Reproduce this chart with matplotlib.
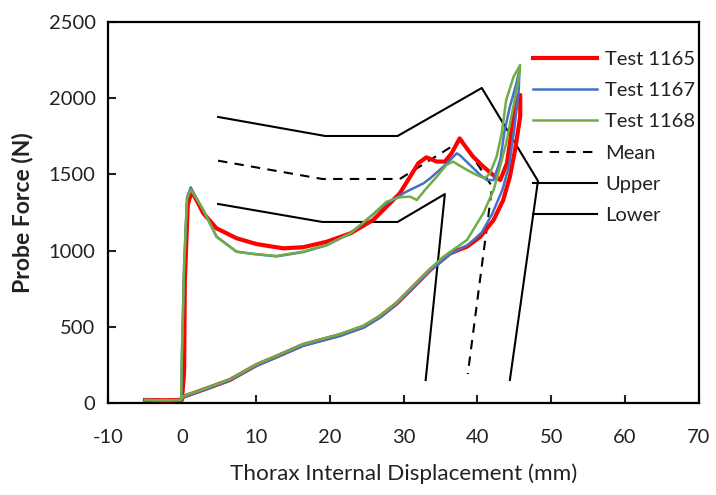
import matplotlib
matplotlib.use("Agg")
import matplotlib.pyplot as plt

plt.rcParams['font.family'] = ['Lato', 'DejaVu Sans']
plt.rcParams['axes.unicode_minus'] = False

# Test 1165 (red): loading then unloading
t1165_x = [-5.0, -2.0, 0.0, 0.3, 0.4, 0.8, 1.3, 2.0, 2.9, 4.7, 7.4, 10.1, 13.7, 16.4, 19.6, 22.8,
           25.9, 27.7, 29.5, 30.9, 32.0, 33.1, 34.5, 35.6, 36.5, 37.6, 37.9, 39.4, 40.8, 42.4,
           43.1, 44.0, 44.6, 45.1, 45.3, 45.8, 45.8, 45.1, 44.4, 43.5, 42.2, 40.4, 38.6, 36.3,
           33.6, 30.9, 29.1, 26.8, 24.6, 21.4, 16.4, 13.3, 10.1, 6.5, 3.4, 0.2, 0.0]
t1165_y = [20, 18, 20, 200, 800, 1300, 1387, 1330, 1245, 1146, 1081, 1043, 1015, 1022, 1058, 1113,
           1201, 1288, 1376, 1485, 1573, 1612, 1584, 1584, 1638, 1736, 1715, 1617, 1551, 1485,
           1463, 1573, 1770, 1923, 2010, 2021, 1879, 1660, 1485, 1332, 1201, 1091, 1026, 982,
           873, 741, 654, 566, 501, 446, 381, 315, 249, 151, 96, 41, 30]

# Test 1167 (blue)
t1167_x = [-5.0, -2.0, -0.1, 0.0, 0.3, 0.7, 1.2, 2.0, 2.9, 4.7, 7.4, 9.7, 12.8, 16.4, 19.6, 22.8,
           25.5, 27.7, 30.4, 32.7, 33.6, 35.4, 37.2, 37.6, 39.0, 40.4, 41.3, 42.2, 43.1, 43.7,
           44.4, 45.3, 45.7, 45.6, 45.0, 44.3, 43.4, 42.0, 40.6, 38.8, 36.3, 33.6, 30.9, 29.1,
           26.8, 24.6, 21.4, 16.4, 13.3, 10.1, 6.5, 3.4, 0.2, 0.0]
t1167_y = [20, 18, 20, 300, 900, 1350, 1415, 1340, 1266, 1091, 993, 978, 962, 990, 1035, 1113,
           1222, 1310, 1387, 1441, 1474, 1551, 1638, 1627, 1562, 1496, 1463, 1463, 1594, 1791,
           1944, 2100, 2190, 2050, 1800, 1560, 1400, 1240, 1120, 1040, 975, 868, 735, 650,
           560, 495, 440, 375, 310, 245, 148, 93, 38, 28]

# Test 1168 (green)
t1168_x = [-5.0, -2.0, -0.1, 0.0, 0.3, 0.7, 1.2, 2.0, 2.9, 4.7, 7.4, 9.7, 12.8, 16.4, 19.6, 22.8,
           25.5, 27.7, 29.5, 30.9, 31.8, 33.1, 34.5, 35.8, 36.7, 38.6, 39.9, 41.0, 41.7, 42.6,
           43.3, 43.9, 44.9, 45.8, 45.5, 44.6, 43.9, 42.9, 42.2, 40.8, 38.6, 35.4, 33.6, 30.9,
           29.1, 26.8, 24.6, 21.4, 16.4, 13.3, 10.1, 6.5, 3.4, 0.2, 0.0]
t1168_y = [20, 18, 20, 300, 900, 1340, 1400, 1340, 1266, 1091, 993, 978, 965, 993, 1037, 1113,
           1222, 1321, 1350, 1354, 1332, 1409, 1485, 1562, 1584, 1529, 1496, 1474, 1507, 1616,
           1770, 1988, 2141, 2218, 2098, 1879, 1704, 1520, 1398, 1245, 1070, 960, 880, 750,
           660, 572, 507, 452, 386, 320, 254, 155, 100, 45, 32]

# Corridors
mean_x = [4.9, 19.0, 29.5, 37.9, 42.0, 38.7]
mean_y = [1590, 1470, 1470, 1725, 1420, 190]
upper_x = [4.9, 19.4, 29.2, 40.6, 48.2, 44.4]
upper_y = [1877, 1752, 1752, 2067, 1457, 151]
lower_x = [4.9, 19.0, 29.2, 35.6, 33.0]
lower_y = [1306, 1188, 1188, 1371, 151]

x_ticks = [-10, 0, 10, 20, 30, 40, 50, 60, 70]
y_ticks = [0, 500, 1000, 1500, 2000, 2500]

fig = plt.figure(figsize=(7.16, 4.95), dpi=100)
ax = fig.add_axes([108/716, 92/495, 591/716, 381/495])

ax.plot(t1165_x, t1165_y, color='#FF0000', lw=3.0, label='Test 1165', zorder=3)
ax.plot(t1167_x, t1167_y, color='#4472C4', lw=1.8, label='Test 1167', zorder=4)
ax.plot(t1168_x, t1168_y, color='#70AD47', lw=1.8, label='Test 1168', zorder=5)
ax.plot(mean_x, mean_y, color='black', lw=1.5, ls=(0, (4.5, 3.5)), label='Mean', zorder=2)
ax.plot(upper_x, upper_y, color='black', lw=1.5, label='Upper', zorder=2)
ax.plot(lower_x, lower_y, color='black', lw=1.5, label='Lower', zorder=2)

ax.set_xlim(-10, 70)
ax.set_ylim(0, 2500)
ax.set_xticks(x_ticks)
ax.set_yticks(y_ticks)
ax.tick_params(direction='in', length=6, width=1.5, labelsize=14.5, colors='#222222')
ax.tick_params(axis='x', pad=19)
ax.tick_params(axis='y', pad=9)
for s in ax.spines.values():
    s.set_linewidth(1.6)

ax.set_xlabel('Thorax Internal Displacement (mm)', fontsize=16.2, labelpad=12, color='#222222')
ax.set_ylabel('Probe Force (N)', fontsize=16.5, fontweight='bold', labelpad=11, color='#222222')

leg = ax.legend(loc='upper left', bbox_to_anchor=(0.719, 0.924), frameon=False, fontsize=14.5,
                handlelength=3.2, handletextpad=0.4, labelspacing=0.7, borderaxespad=0,
                borderpad=0)
for t in leg.get_texts():
    t.set_color('#222222')

fig.savefig('out.png', dpi=100)
